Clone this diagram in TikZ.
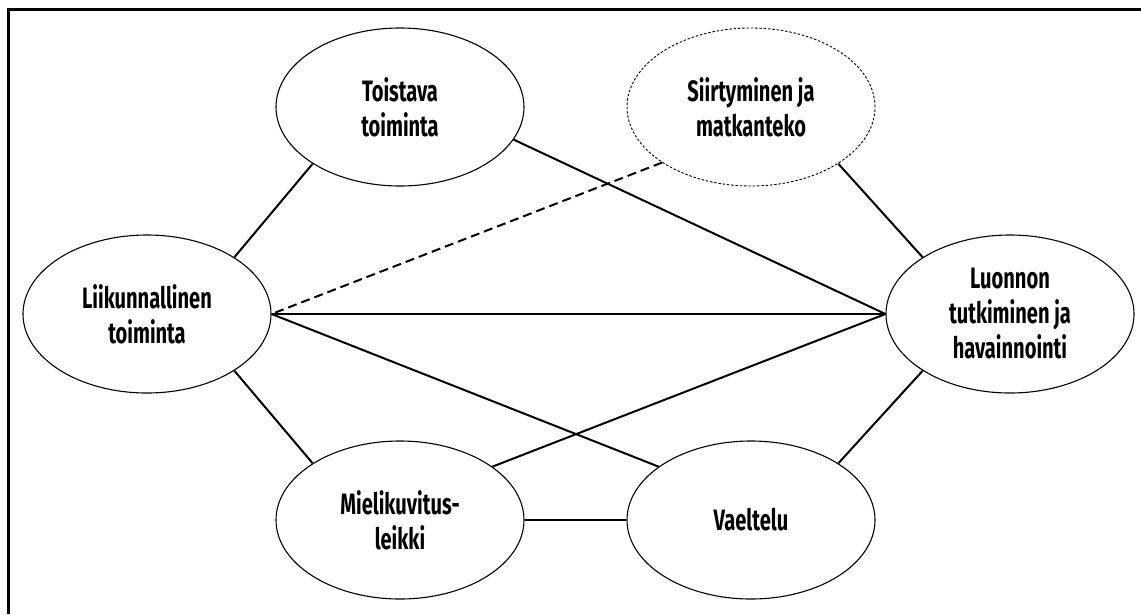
\documentclass[tikz,border=0pt]{standalone}
\usepackage{fontspec}
\setmainfont{Fira Sans}[FakeStretch=0.68]
\usetikzlibrary{shapes.geometric}
\begin{document}
\begin{tikzpicture}[x=1pt,y=-1pt,
  bub/.style={ellipse,draw,line width=1.1pt,minimum width=248pt,minimum height=158pt,inner sep=0pt,
    align=center,font=\fontsize{29.5}{35}\selectfont\bfseries},
  dbub/.style={bub,line width=0.9pt,dash pattern=on 2.5pt off 1.8pt},
  link/.style={line width=2pt},
  hlink/.style={line width=1.3pt},
  dlink/.style={line width=2pt,dash pattern=on 9pt off 5pt}]
\useasboundingbox (0,0) rectangle (1141,614);
\draw[line width=2.8pt] (8.5,614) -- (8.5,9.5) -- (1141,9.5);
\node[bub]  (toi) at (400,107) {Toistava\\toiminta};
\node[dbub] (sii) at (751,107) {Siirtyminen ja\\matkanteko};
\node[bub]  (lii) at (147,314) {Liikunnallinen\\toiminta};
\node[bub]  (luo) at (1010,314) {Luonnon\\tutkiminen ja\\havainnointi};
\node[bub]  (mie) at (400,520) {Mielikuvitus-\\leikki};
\node[bub]  (vae) at (751,520) {Vaeltelu};
\draw[link] (toi.213) -- (lii.33);
\draw[link] (toi.344) -- (luo.west);
\draw[dlink] (sii.212) -- (lii.east);
\draw[link] (sii.327) -- (luo.147);
\draw[hlink] (lii.east) -- (luo.west);
\draw[link] (lii.east) -- (vae.150);
\draw[link] (luo.west) -- (mie.30);
\draw[link] (lii.-33) -- (mie.147);
\draw[link] (luo.213) -- (vae.33);
\draw[hlink] (mie.east) -- (vae.west);
\end{tikzpicture}
\end{document}
